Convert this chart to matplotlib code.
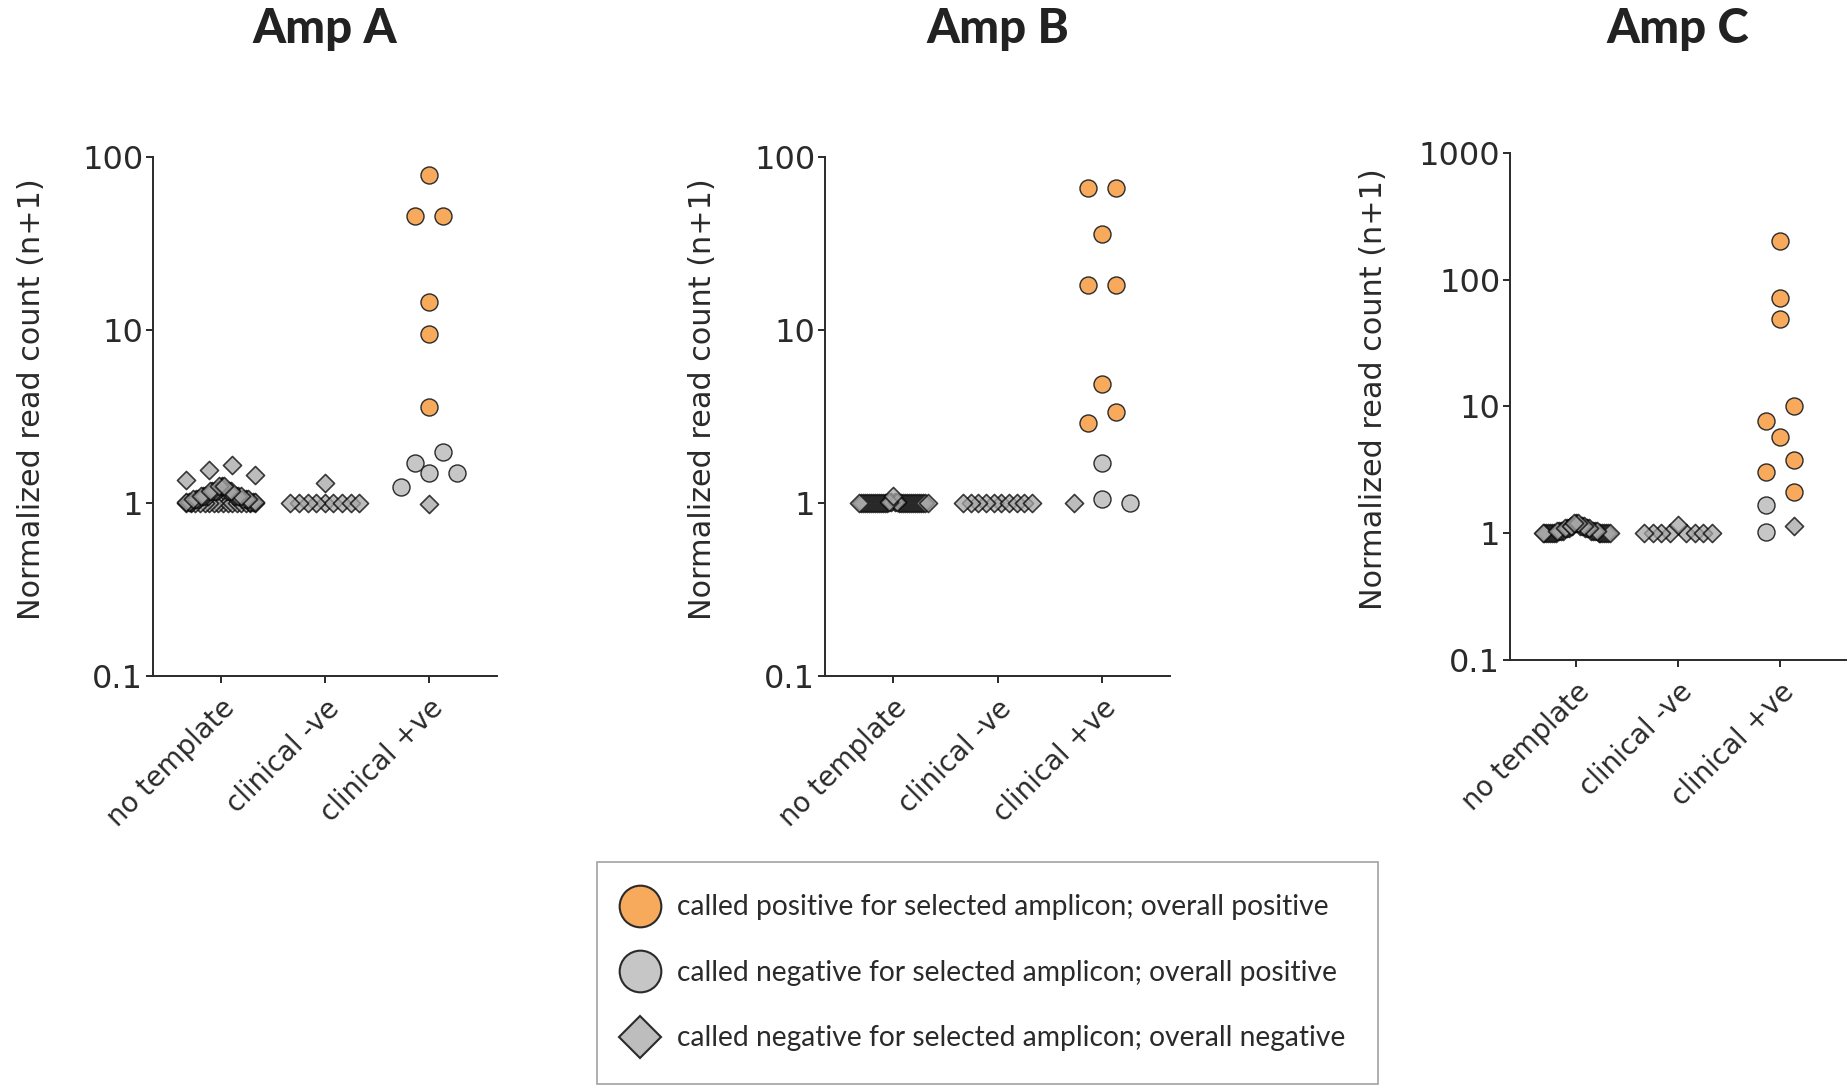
import numpy as np
import matplotlib.pyplot as plt
from matplotlib.lines import Line2D

categories = ["no template", "clinical -ve", "clinical +ve"]
titles = ["Amp A", "Amp B", "Amp C"]

# values (normalized read count, n+1)
# Amp A
a_nt_neg = [1.0, 1.0, 1.0, 1.0, 1.0, 1.0, 1.0, 1.0, 1.0, 1.0, 1.0, 1.0, 1.0, 1.0,
            1.0, 1.0, 1.02, 1.02, 1.02, 1.02, 1.02, 1.02,
            1.05, 1.05, 1.05, 1.05, 1.05, 1.05, 1.1, 1.1, 1.1, 1.1, 1.1, 1.1, 1.1, 1.1,
            1.18, 1.18, 1.18, 1.18, 1.18, 1.18, 1.18, 1.25, 1.25, 1.25,
            1.35, 1.45, 1.55, 1.65]
a_cneg_neg = [1.0, 1.0, 1.0, 1.0, 1.0, 1.0, 1.0, 1.0, 1.0, 1.3]
a_cpos_pos = [79, 45.5, 45.5, 14.6, 9.5, 3.6]
a_cpos_grey = [1.98, 1.71, 1.5, 1.5, 1.23]
a_cpos_neg = [0.99]

# Amp B
b_nt_neg = [1.0, 1.0, 1.0, 1.0, 1.0, 1.0, 1.0, 1.0, 1.0, 1.0, 1.0, 1.0, 1.0, 1.0, 1.0,
            1.0, 1.0, 1.0, 1.0, 1.0, 1.0, 1.0, 1.0, 1.0, 1.0, 1.0, 1.0, 1.0, 1.0, 1.0,
            1.02, 1.02, 1.02, 1.02, 1.1]
b_cneg_neg = [1.0, 1.0, 1.0, 1.0, 1.0, 1.0, 1.0, 1.0, 1.0, 1.0]
b_cpos_pos = [65.8, 65.8, 36, 18.2, 18.2, 4.9, 3.35, 2.89]
b_cpos_grey = [1.70, 1.05, 1.0]
b_cpos_neg = [1.0]

# Amp C
c_nt_neg = [1.0, 1.0, 1.0, 1.0, 1.0, 1.0, 1.0, 1.0, 1.0, 1.0, 1.0, 1.0, 1.0, 1.0, 1.0,
            1.05, 1.05, 1.05, 1.05, 1.05, 1.05, 1.05, 1.05, 1.1, 1.1, 1.1, 1.1, 1.1, 1.1,
            1.15, 1.15, 1.15, 1.15, 1.15, 1.2, 1.2, 1.2]
c_cneg_neg = [1.0, 1.0, 1.0, 1.0, 1.0, 1.0, 1.0, 1.0, 1.17]
c_cpos_pos = [202, 72, 49, 10.1, 7.7, 5.7, 3.8, 3.06, 2.1]
c_cpos_grey = [1.67, 1.03]
c_cpos_neg = [1.14]

a_ylim, b_ylim, c_ylim = (0.1, 100), (0.1, 100), (0.1, 1000)

orange = "#F8AA5C"
grey_c = "#C6C6C6"
grey_d = "#BDBDBD"
ink = "#2a2a2a"


def swarm(vals, tol, step=0.27, half_max=0.33):
    # group points into rows of similar height, spread each row center-out
    lv = np.log10(np.asarray(vals, dtype=float))
    order = np.argsort(-lv, kind="stable")
    offs = np.zeros(len(lv))
    rows, cur = [], []
    for i in order:
        if cur and lv[cur[0]] - lv[i] > tol:
            rows.append(cur)
            cur = []
        cur.append(i)
    if cur:
        rows.append(cur)
    for row in rows:
        n = len(row)
        sp = step if n < 2 else min(step, 2 * half_max / (n - 1))
        if n % 2:
            slots = [0] + [s for k in range(1, n // 2 + 1) for s in (k, -k)]
        else:
            slots = [s for k in range(n // 2) for s in (k + 0.5, -(k + 0.5))]
        for i, s in zip(row, slots):
            offs[i] = s * sp
    return offs


panels = [
    (titles[0], a_ylim, [(a_nt_neg, [], []), (a_cneg_neg, [], []), (a_cpos_neg, a_cpos_grey, a_cpos_pos)]),
    (titles[1], b_ylim, [(b_nt_neg, [], []), (b_cneg_neg, [], []), (b_cpos_neg, b_cpos_grey, b_cpos_pos)]),
    (titles[2], c_ylim, [(c_nt_neg, [], []), (c_cneg_neg, [], []), (c_cpos_neg, c_cpos_grey, c_cpos_pos)]),
]

rects = [[0.0828, 0.3775, 0.1862, 0.4779],
         [0.4467, 0.3775, 0.1868, 0.4779],
         [0.8175, 0.3923, 0.1820, 0.4668]]
label_x = [-0.352, -0.354, -0.406]

fig = plt.figure(figsize=(18.47, 10.86), dpi=100)

for (title, ylim, groups), rect, lx in zip(panels, rects, label_x):
    ax = fig.add_axes(rect)
    ax.set_yscale("log")
    ax.set_ylim(*ylim)
    ax.set_xlim(-0.65, 2.65)
    ndec = np.log10(ylim[1] / ylim[0])
    tol = 0.032 * ndec
    for k, (neg, grey, pos) in enumerate(groups):
        vals = list(pos) + list(grey) + list(neg)
        kinds = ["pos"] * len(pos) + ["grey"] * len(grey) + ["neg"] * len(neg)
        x = k + swarm(vals, tol)
        vals = np.array(vals)
        kinds = np.array(kinds)
        m = kinds == "neg"
        # translucent so that piled-up diamonds darken like the original
        ax.scatter(x[m], vals[m], marker="D", s=85, facecolor="#a6a6a6",
                   edgecolor="#000000", linewidth=1.2, alpha=0.75, zorder=3)
        m = kinds == "grey"
        ax.scatter(x[m], vals[m], marker="o", s=150, facecolor=grey_c,
                   edgecolor=ink, linewidth=1.0, zorder=3)
        m = kinds == "pos"
        ax.scatter(x[m], vals[m], marker="o", s=150, facecolor=orange,
                   edgecolor=ink, linewidth=1.0, zorder=3)

    ticks = [10.0 ** e for e in range(int(np.log10(ylim[0])), int(np.log10(ylim[1])) + 1)]
    ax.set_yticks(ticks)
    ax.set_yticklabels([("%g" % t) for t in ticks])
    ax.yaxis.set_minor_locator(plt.NullLocator())
    ax.set_xticks(range(len(categories)))
    ax.set_xticklabels(categories, rotation=45, ha="right", rotation_mode="anchor")
    ax.tick_params(axis="y", labelsize=23, length=5, width=1.4, colors=ink, pad=2)
    ax.tick_params(axis="x", labelsize=19.8, length=5, width=1.4, colors=ink, pad=8)
    for s in ("top", "right"):
        ax.spines[s].set_visible(False)
    for s in ("left", "bottom"):
        ax.spines[s].set_linewidth(1.4)
        ax.spines[s].set_color(ink)
    ax.set_ylabel("Normalized read count (n+1)", fontsize=21.8, color=ink)
    ax.yaxis.set_label_coords(lx, 0.534)
    ax.yaxis.label.set_va("center")
    fig.text(rect[0] + rect[2] / 2, 0.973, title, ha="center", va="center",
             fontsize=34, fontweight="black", family="Lato", color="#222222")

handles = [
    Line2D([], [], ls="none", marker="o", ms=30, mfc=orange, mec=ink, mew=1.5),
    Line2D([], [], ls="none", marker="o", ms=30, mfc=grey_c, mec=ink, mew=1.5),
    Line2D([], [], ls="none", marker="D", ms=21, mfc=grey_d, mec=ink, mew=1.5),
]
legend_labels = [
    "called positive for selected amplicon; overall positive",
    "called negative for selected amplicon; overall positive",
    "called negative for selected amplicon; overall negative",
]
leg = fig.legend(handles, legend_labels, loc="upper left",
                 bbox_to_anchor=(597 / 1847, 1 - 862 / 1086),
                 prop={"family": "Lato", "size": 20.3}, frameon=True, fancybox=False,
                 borderpad=1.15, labelspacing=1.4, handletextpad=0.95, handlelength=0.75,
                 borderaxespad=0)
leg.get_frame().set_edgecolor("#8a8a8a")
leg.get_frame().set_linewidth(1.2)
for t in leg.get_texts():
    t.set_color(ink)

fig.savefig("out.png", dpi=100)
